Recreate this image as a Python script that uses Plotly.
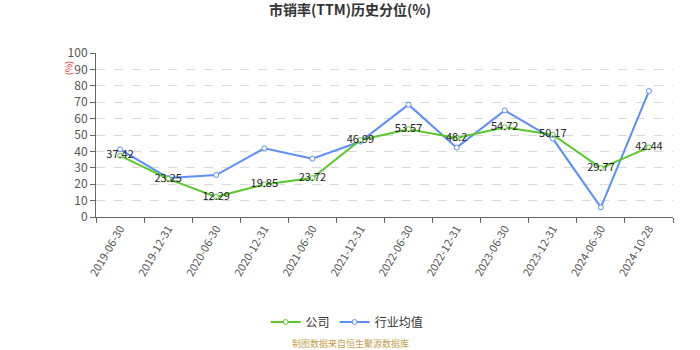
import plotly.graph_objects as go

dates = ["2019-06-30", "2019-12-31", "2020-06-30", "2020-12-31", "2021-06-30",
         "2021-12-31", "2022-06-30", "2022-12-31", "2023-06-30", "2023-12-31",
         "2024-06-30", "2024-10-28"]
company = [37.42, 23.25, 12.29, 19.85, 23.72, 46.99, 53.57, 48.2, 54.72, 50.17, 29.77, 42.44]
industry = [41.3, 23.8, 25.6, 41.9, 35.6, 46.0, 68.5, 42.3, 65.0, 47.8, 5.9, 76.8]
y_ticks = list(range(0, 101, 10))

font_family = "Noto Sans CJK SC, Noto Sans, sans-serif"
green = "#5ac82a"
blue = "#5b8ff9"

# plot area geometry in pixels
plot_l, plot_w, plot_h = 96, 577, 164
page_center = (350 - plot_l) / plot_w

fig = go.Figure()
fig.add_trace(go.Scatter(
    x=dates, y=industry, name="行业均值", mode="lines+markers",
    line=dict(color=blue, width=2),
    marker=dict(symbol="circle", size=5, color="white", line=dict(color=blue, width=1)),
    cliponaxis=False,
))
fig.add_trace(go.Scatter(
    x=dates, y=company, name="公司", mode="lines+markers+text",
    line=dict(color=green, width=2),
    marker=dict(symbol="circle", size=5, color="white", line=dict(color=green, width=1)),
    text=[f"{v:g}" for v in company], textposition="middle center",
    textfont=dict(size=11, color="#222", family=font_family),
    cliponaxis=False,
))

fig.update_layout(
    width=700, height=350,
    margin=dict(l=plot_l, r=27, t=53, b=133),
    paper_bgcolor="white", plot_bgcolor="white",
    font=dict(family=font_family, color="#555"),
    title=dict(text="<b>市销率(TTM)历史分位(%)</b>", x=0.5, xanchor="center",
               y=0.985, yanchor="top", font=dict(size=14, color="#333")),
    showlegend=True,
    legend=dict(orientation="h", x=page_center - 0.005, xanchor="center", y=-105 / plot_h,
                yanchor="middle", font=dict(size=12, color="#333"), traceorder="reversed",
                itemwidth=30),
    xaxis=dict(type="category", categoryorder="array", categoryarray=dates,
               showline=True, linecolor="#666", linewidth=1,
               ticks="outside", tickson="boundaries", ticklen=5, tickcolor="#666",
               tickangle=-60, tickfont=dict(size=11, color="#555"),
               showgrid=False, range=[-0.5, len(dates) - 0.5], automargin=False),
    yaxis=dict(range=[0, 100], tickvals=y_ticks, showline=True, linecolor="#666",
               linewidth=1, ticks="outside", ticklen=5, tickcolor="#666",
               tickfont=dict(size=12, color="#555"),
               showgrid=True, gridcolor="#d9d9d9", griddash="dash", gridwidth=1,
               zeroline=False, automargin=False),
    annotations=[
        dict(text="(%)", x=-28 / plot_w, y=(216.7 - 68) / plot_h, xref="paper", yref="paper",
             xanchor="center", yanchor="middle", showarrow=False,
             font=dict(size=9, color="#e03030"), textangle=-90),
        dict(text="制图数据来自恒生聚源数据库", x=page_center, y=-126 / plot_h,
             xref="paper", yref="paper",
             xanchor="center", yanchor="middle", showarrow=False,
             font=dict(size=9, color="#c8a050")),
    ],
)

fig.write_html("out.html")
